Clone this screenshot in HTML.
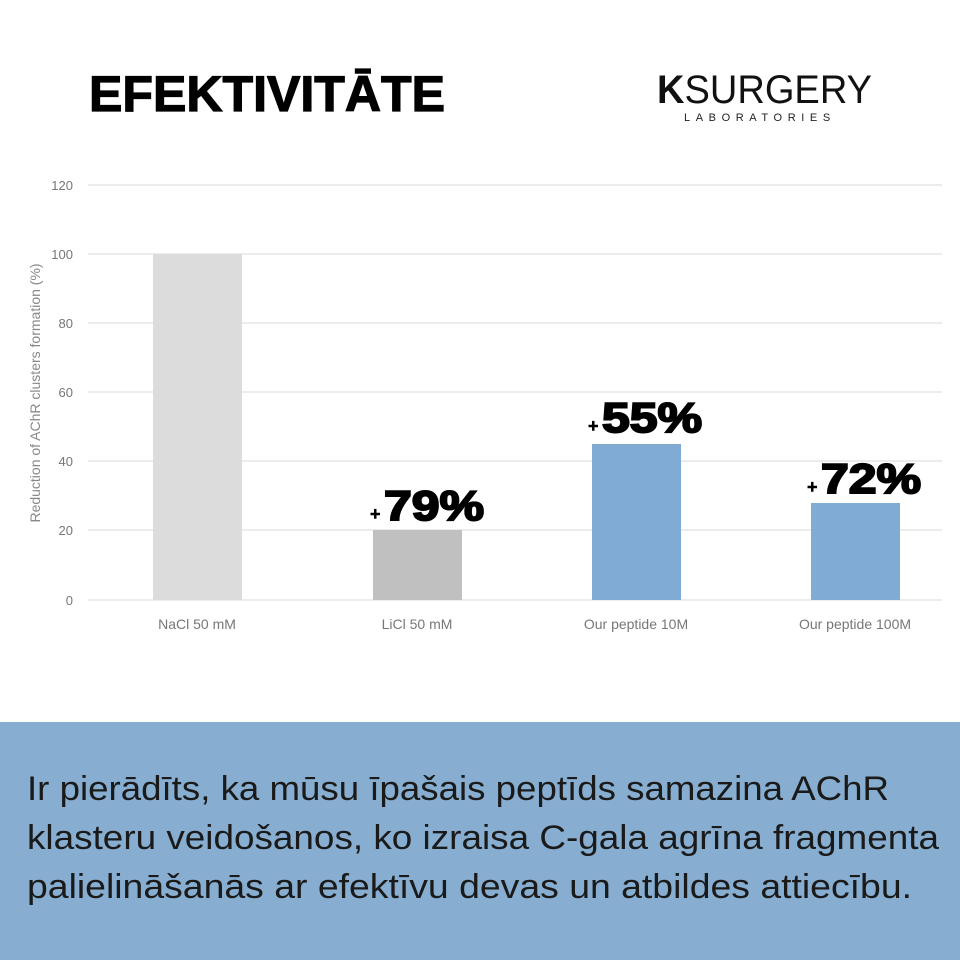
<!DOCTYPE html>
<html><head><meta charset="utf-8"><style>
html,body{margin:0;padding:0;background:#fff}
body{width:960px;height:960px;position:relative;overflow:hidden;font-family:"Liberation Sans",sans-serif}
</style></head><body>
<svg width="960" height="960" viewBox="0 0 960 960" xmlns="http://www.w3.org/2000/svg" style="position:absolute;left:0;top:0">
<text x="89" y="111" font-family="Liberation Sans" font-weight="bold" font-size="50" fill="#000" stroke="#000" stroke-width="1.2" textLength="356" lengthAdjust="spacingAndGlyphs">EFEKTIVITĀTE</text>
<text x="657" y="103" font-family="Liberation Sans" font-size="40" fill="#111" textLength="215" lengthAdjust="spacingAndGlyphs"><tspan font-weight="bold">K</tspan>SURGERY</text>
<text x="684" y="121" font-family="Liberation Sans" font-size="11" fill="#222" letter-spacing="5.6">LABORATORIES</text>
<g stroke="#e6e6e6" stroke-width="1.5">
<line x1="88" x2="942" y1="185" y2="185"/><line x1="88" x2="942" y1="254" y2="254"/>
<line x1="88" x2="942" y1="323" y2="323"/><line x1="88" x2="942" y1="392" y2="392"/>
<line x1="88" x2="942" y1="461" y2="461"/><line x1="88" x2="942" y1="530" y2="530"/>
<line x1="88" x2="942" y1="600" y2="600"/></g>
<g font-family="Liberation Sans" font-size="13" fill="#777" text-anchor="end">
<text x="73" y="190">120</text><text x="73" y="259">100</text><text x="73" y="328">80</text>
<text x="73" y="397">60</text><text x="73" y="466">40</text><text x="73" y="535">20</text><text x="73" y="605">0</text></g>
<text transform="translate(40,393) rotate(-90)" text-anchor="middle" font-family="Liberation Sans" font-size="14" fill="#888">Reduction of AChR clusters formation (%)</text>
<rect x="153" y="254" width="89" height="346" fill="#dcdcdc"/>
<rect x="373" y="530" width="89" height="70" fill="#c0c0c0"/>
<rect x="592" y="444" width="89" height="156" fill="#80abd4"/>
<rect x="811" y="503" width="89" height="97" fill="#80abd4"/>
<g font-family="Liberation Sans" font-size="14" fill="#777" text-anchor="middle">
<text x="197" y="629">NaCl 50 mM</text><text x="417" y="629">LiCl 50 mM</text>
<text x="636" y="629">Our peptide 10M</text><text x="855" y="629">Our peptide 100M</text></g>
<g font-family="Liberation Sans" font-weight="bold" fill="#000" stroke="#000">
<text x="370" y="520" font-size="18" stroke-width="0.5">+</text><text x="384" y="520" font-size="42" stroke-width="2" textLength="100" lengthAdjust="spacingAndGlyphs">79%</text>
<text x="588" y="432" font-size="18" stroke-width="0.5">+</text><text x="602" y="432" font-size="42" stroke-width="2" textLength="100" lengthAdjust="spacingAndGlyphs">55%</text>
<text x="807" y="493" font-size="18" stroke-width="0.5">+</text><text x="821" y="493" font-size="42" stroke-width="2" textLength="100" lengthAdjust="spacingAndGlyphs">72%</text></g>
<rect x="0" y="722" width="960" height="238" fill="#87aed0"/>
<g font-family="Liberation Sans" font-size="34" fill="#1a1a1a">
<text x="27" y="800" textLength="862" lengthAdjust="spacingAndGlyphs">Ir pierādīts, ka mūsu īpašais peptīds samazina AChR</text>
<text x="27" y="849" textLength="912" lengthAdjust="spacingAndGlyphs">klasteru veidošanos, ko izraisa C-gala agrīna fragmenta</text>
<text x="27" y="898" textLength="885" lengthAdjust="spacingAndGlyphs">palielināšanās ar efektīvu devas un atbildes attiecību.</text></g>
</svg>
</body></html>
